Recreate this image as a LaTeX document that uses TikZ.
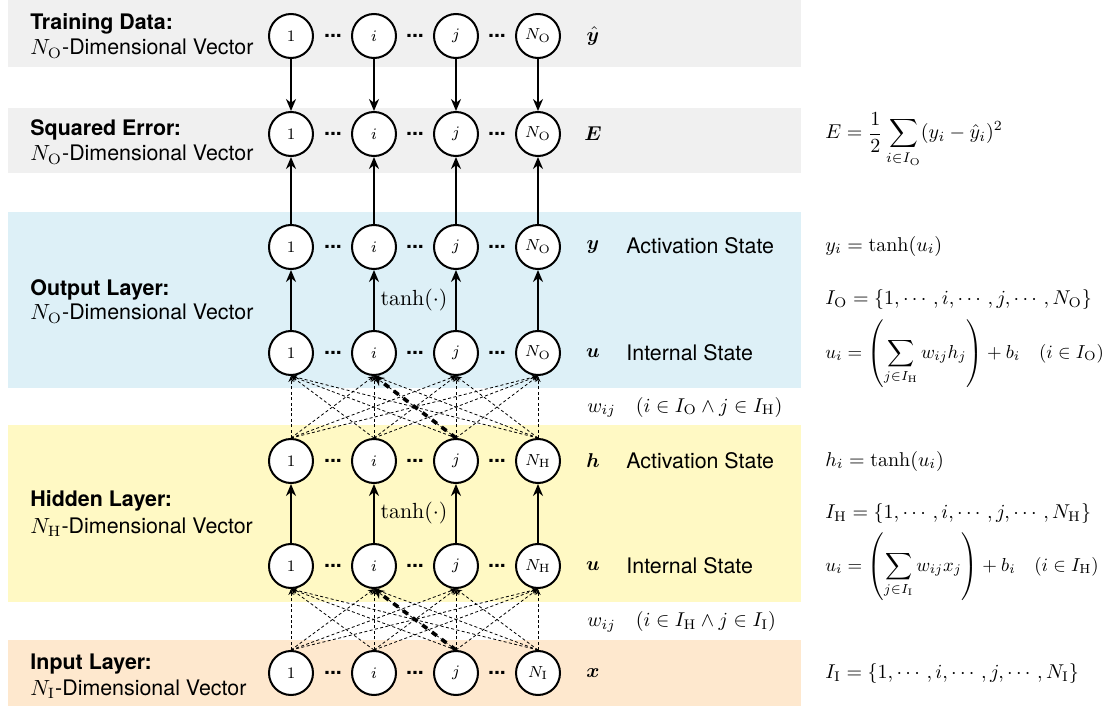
\documentclass[tikz,border=0pt]{standalone}
\usepackage{amsmath}
\usepackage{bm}
\usepackage{graphicx}
\usepackage{fontspec}
\newfontfamily\hv{TeX Gyre Heros}
\usetikzlibrary{arrows.meta}
\definecolor{bgray}{RGB}{240,240,240}
\definecolor{bblue}{RGB}{221,240,247}
\definecolor{byellow}{RGB}{255,249,196}
\definecolor{borange}{RGB}{254,232,206}
\begin{document}
\begin{tikzpicture}[x=0.5pt,y=-0.5pt,
  neuron/.style={circle,draw,line width=1pt,fill=white,minimum size=22pt,inner sep=0pt,font=\fontsize{8}{9}\selectfont},
  dotsnode/.style={font=\hv\bfseries\fontsize{10.7}{13}\selectfont,inner sep=0pt},
  sanslbl/.style={font=\hv\fontsize{10.7}{13}\selectfont,anchor=base west,inner sep=0pt},
  boldlbl/.style={font=\hv\bfseries\fontsize{10.7}{13}\selectfont,anchor=base west,inner sep=0pt},
  mathlbl/.style={font=\fontsize{10}{12}\selectfont,anchor=base west,inner sep=0pt},
  symlbl/.style={font=\fontsize{10}{12}\selectfont,inner sep=0pt},
  solidarrow/.style={line width=1pt,-{Stealth[length=6pt,width=5pt]}},
  thindash/.style={line width=0.4pt,dash pattern=on 1.5pt off 1.2pt,-{Stealth[length=3pt,width=2.6pt]}},
  thickdash/.style={line width=1.8pt,dash pattern=on 3pt off 3pt,-{Stealth[length=5pt,width=5pt]}}
]
\useasboundingbox (0,0) rectangle (1110,706);
% bands
\fill[bgray] (8,0) rectangle (801,67);
\fill[bgray] (8,108) rectangle (801,173);
\fill[bblue] (8,212) rectangle (801,388);
\fill[byellow] (8,425) rectangle (801,602);
\fill[borange] (8,640) rectangle (801,706);
% neurons
\foreach \r/\y/\n in {t/36/O, e/134/O, y/247/O, uo/353/O, h/461/H, uh/566/H, x/673/I} {
  \node[neuron] (\r1) at (291,\y) {$1$};
  \node[neuron] (\r2) at (374,\y) {$i$};
  \node[neuron] (\r3) at (456,\y) {$j$};
  \node[neuron] (\r4) at (538,\y) {$N_{\mathrm{\n}}$};
  \foreach \dx in {333,415,497} \node[dotsnode] (\r d\dx) at (\dx,\y) {...};
}
% solid arrows
\foreach \k in {1,...,4} {
  \draw[solidarrow] (t\k) -- (e\k);
  \draw[solidarrow] (y\k) -- (e\k);
  \draw[solidarrow] (uo\k) -- (y\k);
  \draw[solidarrow] (uh\k) -- (h\k);
}
% dashed weights
\foreach \a in {1,...,4} {
  \foreach \b in {1,...,4} {
    \draw[thindash] (h\a.north) -- (uo\b.south);
    \draw[thindash] (x\a.north) -- (uh\b.south);
  }
}
\draw[thickdash] (h3.north) -- (uo2.south);
\draw[thickdash] (x3.north) -- (uh2.south);
% tanh labels
\node[symlbl,font=\fontsize{10.95}{13}\selectfont] (tanho) at (414,300) {$\tanh(\cdot)$};
\node[symlbl,font=\fontsize{10.95}{13}\selectfont] (tanhh) at (414,513) {$\tanh(\cdot)$};
% left labels
\node[boldlbl] (l1a) at (30,30) {Training Data:};
\node[sanslbl] (l1b) at (30,55) {$N_{\mathrm{O}}$-Dimensional Vector};
\node[boldlbl] (l2a) at (30,136) {Squared Error:};
\node[sanslbl] (l2b) at (30,161) {$N_{\mathrm{O}}$-Dimensional Vector};
\node[boldlbl] (l3a) at (30,295) {Output Layer:};
\node[sanslbl] (l3b) at (30,320) {$N_{\mathrm{O}}$-Dimensional Vector};
\node[boldlbl] (l4a) at (30,506) {Hidden Layer:};
\node[sanslbl] (l4b) at (30,533) {$N_{\mathrm{H}}$-Dimensional Vector};
\node[boldlbl] (l5a) at (30,669) {Input Layer:};
\node[sanslbl] (l5b) at (30,695) {$N_{\mathrm{I}}$-Dimensional Vector};
% symbols
\node[symlbl] (s0) at (593,36) {$\hat{\bm{y}}$};
\node[symlbl] (s1) at (593,134) {$\bm{E}$};
\node[symlbl] (s2) at (593,247) {$\bm{y}$};
\node[symlbl] (s3) at (593,353) {$\bm{u}$};
\node[symlbl] (s4) at (593,461) {$\bm{h}$};
\node[symlbl] (s5) at (593,566) {$\bm{u}$};
\node[symlbl] (s6) at (593,673) {$\bm{x}$};
\node[sanslbl] (st1) at (626,254) {Activation State};
\node[sanslbl] (st2) at (626,360) {Internal State};
\node[sanslbl] (st3) at (626,468) {Activation State};
\node[sanslbl] (st4) at (626,573) {Internal State};
% weights
\node[mathlbl] (w1) at (587,412) {$w_{ij}\quad(i\in I_{\mathrm{O}}\land j\in I_{\mathrm{H}})$};
\node[mathlbl] (w2) at (587,626) {$w_{ij}\quad(i\in I_{\mathrm{H}}\land j\in I_{\mathrm{I}})$};
% right formulas
\node[mathlbl] (f1) at (825,139) {$E=\dfrac{1}{2}\displaystyle\sum_{i\in I_{\mathrm{O}}}(y_i-\hat{y}_i)^2$};
\node[mathlbl] (f2) at (825,251) {$y_i=\tanh(u_i)$};
\node[mathlbl] (f3) at (825,305) {$I_{\mathrm{O}}=\{1,\cdots,i,\cdots,j,\cdots,N_{\mathrm{O}}\}$};
\node[mathlbl] (f4) at (825,358) {\scalebox{0.94}{$u_i=\left(\displaystyle\sum_{j\in I_{\mathrm{H}}}w_{ij}h_j\right)+b_i\quad(i\in I_{\mathrm{O}})$}};
\node[mathlbl] (f5) at (825,466) {$h_i=\tanh(u_i)$};
\node[mathlbl] (f6) at (825,518) {$I_{\mathrm{H}}=\{1,\cdots,i,\cdots,j,\cdots,N_{\mathrm{H}}\}$};
\node[mathlbl] (f7) at (825,571) {\scalebox{0.94}{$u_i=\left(\displaystyle\sum_{j\in I_{\mathrm{I}}}w_{ij}x_j\right)+b_i\quad(i\in I_{\mathrm{H}})$}};
\node[mathlbl] (f8) at (825,678) {$I_{\mathrm{I}}=\{1,\cdots,i,\cdots,j,\cdots,N_{\mathrm{I}}\}$};
\end{tikzpicture}
\end{document}
